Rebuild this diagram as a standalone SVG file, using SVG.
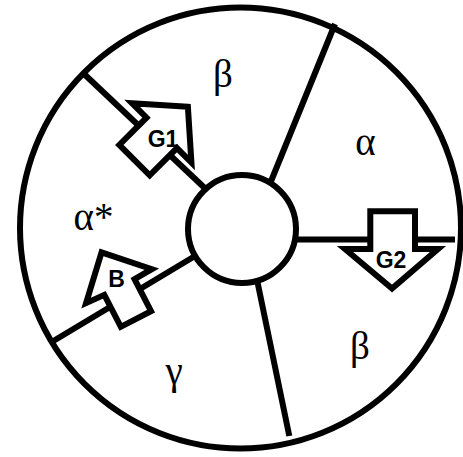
<svg xmlns="http://www.w3.org/2000/svg" width="463" height="457" viewBox="0 0 463 457">
<style>
.ln{stroke:#000;stroke-width:6;fill:none}
.shape{stroke:#000;stroke-width:6;fill:#fff;stroke-linejoin:miter;stroke-miterlimit:10}
.lbl{font-family:"Liberation Sans",Arial,sans-serif;font-weight:bold;font-size:23px;text-anchor:middle;fill:#000}
.gk{font-family:"Liberation Serif","Times New Roman",serif;font-size:39px;text-anchor:middle;fill:#000}
</style>
<rect width="463" height="457" fill="#fff"/>
<g id="outer">
<circle cx="240.5" cy="228" r="220.5" class="ln"/>
</g>
<g id="connectors">
<line x1="83.3" y1="73.3" x2="210" y2="193" class="ln"/>
<line x1="335" y1="24" x2="265" y2="196" class="ln"/>
<line x1="285" y1="239.5" x2="455" y2="239.5" class="ln"/>
<line x1="255" y1="270" x2="289.3" y2="436" class="ln"/>
<line x1="50" y1="343" x2="210" y2="247" class="ln"/>
</g>
<g id="hub">
<circle cx="242" cy="229" r="54" class="shape"/>
</g>
<g id="G1">
<path transform="translate(159.6,135) rotate(-45)" d="M40,0 L3,-42 L3,-21.5 L-35.5,-21.5 L-35.5,21.5 L3,21.5 L3,42 Z" class="shape"/>
<text x="163" y="147" class="lbl">G1</text>
</g>
<g id="B">
<path transform="translate(120.8,289.7) rotate(-117.3)" d="M42,0 L4,-37 L3,-17 L-33,-17 L-33,17 L3,17 L4,37 Z" class="shape"/>
<text x="116.5" y="287" class="lbl">B</text>
</g>
<g id="G2">
<path d="M392,288.5 L345,249 L370.3,249 L370.3,211.3 L415,211.3 L415,249 L438,249 Z" class="shape"/>
<text x="391" y="268" class="lbl">G2</text>
</g>
<g id="labels">
<text x="223" y="87" class="gk">β</text>
<text x="365.5" y="155" class="gk">α</text>
<text x="93.5" y="230" class="gk">α*</text>
<text x="360" y="359" class="gk">β</text>
<text x="174" y="384" class="gk">γ</text>
</g>
</svg>
